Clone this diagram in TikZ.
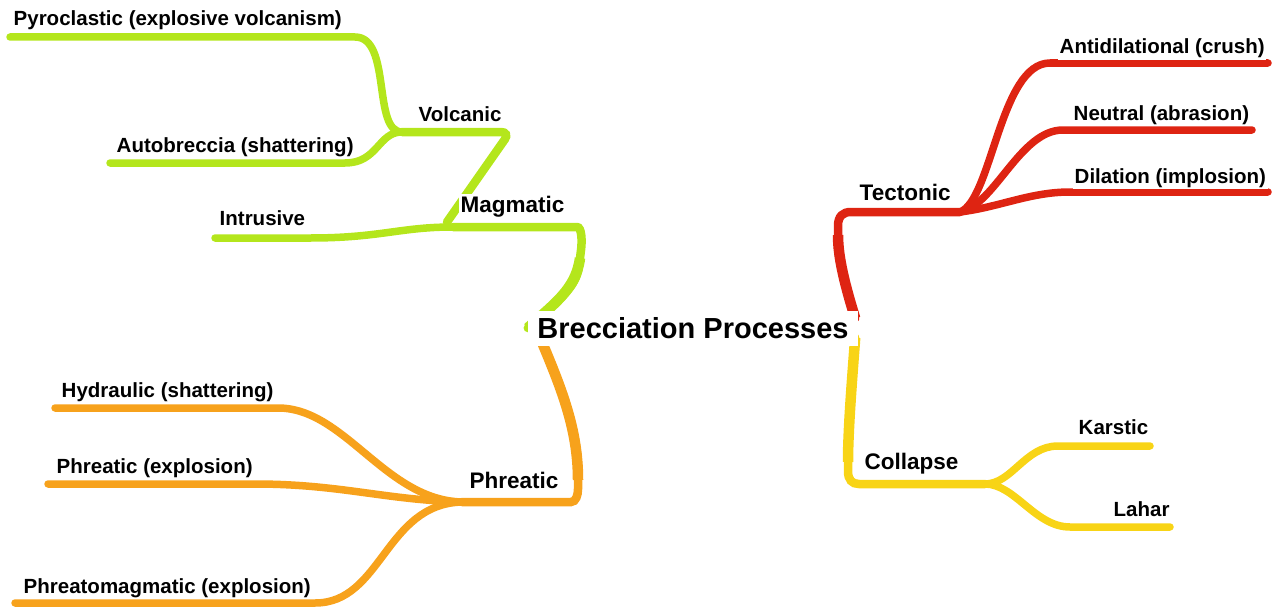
\documentclass[tikz,border=0pt]{standalone}
\usepackage{fontspec}
\setmainfont{Liberation Sans}
\usetikzlibrary{calc,backgrounds}
\definecolor{mgreen}{RGB}{180,230,28}
\definecolor{morange}{RGB}{247,162,28}
\definecolor{mred}{RGB}{222,36,18}
\definecolor{myellow}{RGB}{248,212,22}
\tikzset{
  leaf/.style={font=\fontsize{20.5}{24}\selectfont\bfseries, inner sep=1.5pt, fill=white, anchor=base west},
  sub/.style={leaf, font=\fontsize{22.5}{26}\selectfont\bfseries},
  twig/.style={line width=7.5pt, line cap=round},
  bough/.style={line width=8.5pt, line cap=round, rounded corners=9pt},
  taper/.style={line width=10.5pt, line cap=butt},
}
\begin{document}
\begin{tikzpicture}[x=1pt,y=-1pt]
\useasboundingbox (0,0) rectangle (1276,610);
% centre
\node[fill=white, inner sep=0pt, minimum width=330pt, minimum height=35pt,
  font=\fontsize{29}{32}\selectfont\bfseries] (root) at (693,328) {Brecciation Processes};
% labels
\node[leaf] (pyro) at (12,26) {Pyroclastic (explosive volcanism)};
\node[leaf] (auto) at (115,152) {Autobreccia (shattering)};
\node[leaf] (volc) at (417,121) {Volcanic};
\node[sub]  (magm) at (459,212) {Magmatic};
\node[leaf] (intr) at (218,225) {Intrusive};
\node[leaf] (hydr) at (60,397) {Hydraulic (shattering)};
\node[leaf] (phex) at (55,473) {Phreatic (explosion)};
\node[leaf] (phmg) at (22,593) {Phreatomagmatic (explosion)};
\node[sub]  (phre) at (468,488) {Phreatic};
\node[sub]  (tect) at (858,200) {Tectonic};
\node[leaf] (anti) at (1058,54) {Antidilational (crush)};
\node[leaf] (neut) at (1072,120) {Neutral (abrasion)};
\node[leaf] (dila) at (1073,183) {Dilation (implosion)};
\node[sub]  (coll) at (863,469) {Collapse};
\node[leaf] (kars) at (1077,434) {Karstic};
\node[leaf] (laha) at (1112,516) {Lahar};
% hubs and line ends
\path (402,132) coordinate (hubV) (453,227) coordinate (hubM) (462,502) coordinate (hubP)
(960,212) coordinate (hubT) (985,484) coordinate (hubC)
(10,37) coordinate (pyroL) (110,163) coordinate (autoL) (215,238) coordinate (intrL)
(55,408) coordinate (hydrL) (48,484) coordinate (phexL) (15,603) coordinate (phmgL)
(1268,63) coordinate (antiR) (1252,130) coordinate (neutR) (1268,192) coordinate (dilaR)
(1150,446) coordinate (karsR) (1170,527) coordinate (lahaR)
($(root.south west)+(14,-4)$) coordinate (rootP) ($(root.north east)+(-3,8)$) coordinate (rootT)
($(root.south east)+(-3,-8)$) coordinate (rootC);
\begin{scope}[on background layer]
% magmatic
\draw[twig,mgreen] (pyroL) -- (355,37) .. controls (392,37) and (372,132) .. (hubV);
\draw[twig,mgreen] (autoL) -- (345,163) .. controls (378,163) and (378,132) .. (hubV);
\draw[bough,mgreen] (hubV) -- (510,132) -- (447,222);
\draw[twig,mgreen] (intrL) -- (310,238) .. controls (380,238) and (400,227) .. (hubM);
\draw[bough,mgreen] (hubM) -- (568,227) .. controls (582,227) and (582,242) .. (580,258)
  .. controls (576,290) and (552,305) .. (root.west);
\draw[taper,mgreen] (580,258) .. controls (576,290) and (552,305) .. (root.west);
% phreatic
\draw[twig,morange] (hydrL) -- (278,408) .. controls (345,408) and (385,500) .. (hubP);
\draw[twig,morange] (phexL) -- (255,484) .. controls (340,484) and (385,500) .. (hubP);
\draw[twig,morange] (phmgL) -- (315,603) .. controls (382,603) and (385,504) .. (hubP);
\draw[bough,morange] (rootP) .. controls (562,390) and (578,430) .. (578,480)
  .. controls (578,495) and (576,502) .. (562,502) -- (hubP);
\draw[taper,morange] (rootP) .. controls (562,390) and (578,430) .. (578,480);
% tectonic
\draw[bough,mred] (rootT) .. controls (845,285) and (838,258) .. (838,235)
  .. controls (838,216) and (843,212) .. (860,212) -- (hubT);
\draw[taper,mred] (rootT) .. controls (845,285) and (838,258) .. (838,235);
\draw[twig,mred] (hubT) .. controls (992,200) and (1000,63) .. (1050,63) -- (antiR);
\draw[twig,mred] (hubT) .. controls (995,205) and (1020,130) .. (1063,130) -- (neutR);
\draw[twig,mred] (hubT) .. controls (1000,207) and (1030,192) .. (1070,192) -- (dilaR);
% collapse
\draw[bough,myellow] (rootC) .. controls (852,380) and (848,430) .. (848,462)
  .. controls (848,480) and (852,484) .. (868,484) -- (hubC);
\draw[taper,myellow] (rootC) .. controls (852,380) and (848,430) .. (848,462);
\draw[twig,myellow] (hubC) .. controls (1012,484) and (1025,446) .. (1058,446) -- (karsR);
\draw[twig,myellow] (hubC) .. controls (1015,484) and (1035,527) .. (1070,527) -- (lahaR);
\end{scope}
\end{tikzpicture}
\end{document}
